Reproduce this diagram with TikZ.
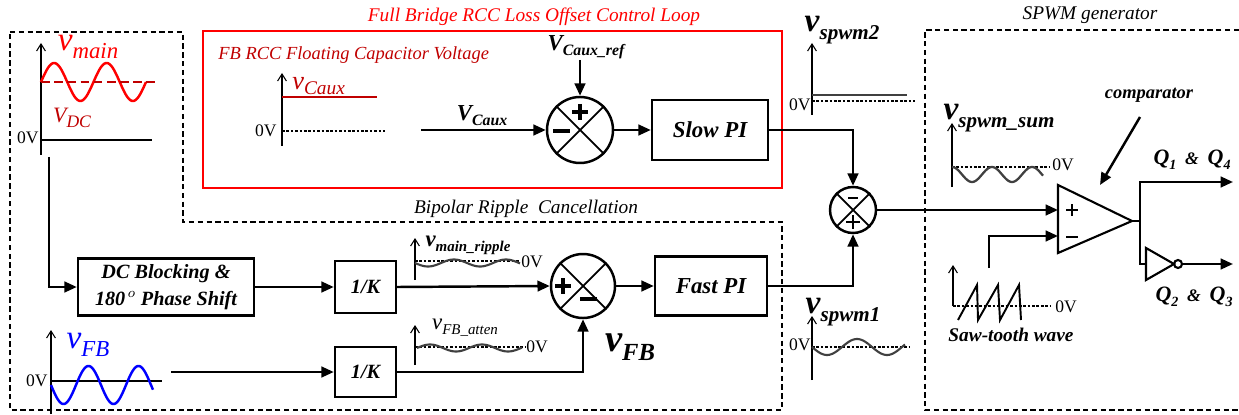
\documentclass[tikz,border=0pt]{standalone}
\usepackage{fontspec}
\setmainfont{Liberation Serif}
\usetikzlibrary{arrows.meta}
\definecolor{rd}{RGB}{255,0,0}
\definecolor{dred}{RGB}{192,0,0}
\definecolor{blu}{RGB}{0,0,255}
\definecolor{wav}{RGB}{64,64,64}
\newcommand\vsb[4]{{\fontsize{#1}{#1}\selectfont #3}\raisebox{-.22\dimexpr#1pt\relax}{\fontsize{#2}{#2}\selectfont #4}}
\newcommand\fs[1]{\fontsize{#1}{#1}\selectfont}
\tikzset{
  wire/.style={line width=1.4pt, -{Triangle[length=7pt,width=6pt]}},
  plain/.style={line width=1.4pt},
  blockbox/.style={draw, line width=1.4pt, inner sep=0pt, font=\bfseries\itshape\fs{12}},
  sumj/.style={draw, circle, line width=1.4pt, inner sep=0pt},
  axis/.style={line width=0.6pt, -{Straight Barb[length=4pt,width=5pt]}},
  zline/.style={line width=0.6pt, dash pattern=on 1.5pt off 1pt},
  frame/.style={line width=1.4pt, dash pattern=on 3pt off 2pt},
  ttl/.style={font=\itshape\fs{11}, inner sep=0pt},
  zv/.style={font=\fs{10}, inner sep=0pt},
  sig/.style={line width=2pt},
}
\begin{document}
\begin{tikzpicture}[x=0.02cm,y=-0.02cm]
\useasboundingbox (0,0) rectangle (1239,415);

% ---------- frames ----------
\draw[frame] (10,32) -- (183,32) -- (183,222) -- (782,222) -- (782,410) -- (10,410) -- cycle;
\draw[frame] (1239,30) -- (925,30) -- (925,410) -- (1239,410);
\draw[rd, line width=1.4pt] (203,31) rectangle (782,188);

\node[ttl, text=rd] (ttlred) at (534,17) {Full Bridge RCC Loss Offset Control Loop};
\node[ttl] (ttlbip) at (526,209) {Bipolar Ripple\ \ Cancellation};
\node[ttl] (ttlspwm) at (1090,15) {SPWM generator};
\node[ttl, text=dred, anchor=west, font=\itshape\fs{10.5}] (ttlfb) at (218,55) {FB RCC Floating Capacitor Voltage};

% ---------- v_main graph ----------
\draw[axis] (41,155) -- (41,43);
\draw[line width=0.8pt] (41,140) -- (152,140);
\draw[rd, line width=1.4pt] plot[domain=41:146, samples=120] (\x,{82-19*sin((\x-41)/52.5*360)});
\draw[dred, line width=1.4pt, dash pattern=on 5pt off 2.5pt] (41,82) -- (155,82);
\node[inner sep=0pt, text=rd, font=\itshape] (lvmain) at (88,47) {\vsb{19}{13}{v}{main}};
\node[inner sep=0pt, text=dred, font=\itshape] (lvdc) at (72,118) {\vsb{12.5}{10}{V}{DC}};
\node[zv, anchor=east] (z1) at (39,138) {0V};

% ---------- v_FB graph ----------
\draw[axis] (51,414) -- (51,330);
\draw[line width=0.8pt] (51,381) -- (162,381);
\draw[blu, line width=1.4pt] plot[domain=51:153, samples=120] (\x,{385+19*sin((\x-51)/50*360)});
\node[inner sep=0pt, text=blu, font=\itshape] (lvfb) at (88,345) {\vsb{19}{13}{v}{FB}};
\node[zv, anchor=east] (z2) at (48,381) {0V};

% ---------- blocks ----------
\node[blockbox, minimum width=3.52cm, minimum height=1.14cm, align=center, font=\bfseries\itshape\fontsize{11.5}{15}\selectfont] (dc) at (166,287) {DC Blocking \&\\180$^{\,o}$ Phase Shift};
\node[blockbox, minimum width=1.22cm, minimum height=1.04cm, font=\bfseries\itshape\fs{11.5}] (k1) at (365.5,287) {1/K};
\node[blockbox, minimum width=1.22cm, minimum height=1.0cm, font=\bfseries\itshape\fs{11.5}] (k2) at (365.5,372) {1/K};
\node[blockbox, minimum width=2.32cm, minimum height=1.2cm, font=\bfseries\itshape\fs{13}] (slow) at (710,130) {Slow PI};
\node[blockbox, minimum width=2.24cm, minimum height=1.18cm, font=\bfseries\itshape\fs{13}] (fast) at (711,286) {Fast PI};

% ---------- summing junctions ----------
\node[sumj, minimum size=1.32cm] (j1) at (580,130) {};
\draw[line width=1pt] (j1.45) -- (j1.225) (j1.135) -- (j1.-45);
\draw[sig] (572,112) -- (588,112) (580,104) -- (580,120);
\draw[sig] (553,131) -- (570,131);

\node[sumj, minimum size=1.28cm] (j2) at (583,286) {};
\draw[line width=1pt] (j2.45) -- (j2.225) (j2.135) -- (j2.-45);
\draw[sig] (555,286) -- (571,286) (563,278) -- (563,294);
\draw[sig] (580,299) -- (597,299);

\node[sumj, minimum size=0.92cm] (j3) at (853,210) {};
\draw[line width=1pt] (j3.45) -- (j3.225) (j3.135) -- (j3.-45);
\draw[line width=1.6pt] (848,198) -- (858,198);
\draw[line width=1.6pt] (846,222) -- (860,222) (853,215) -- (853,229);

% ---------- V_Caux path ----------
\draw[axis] (282,146) -- (282,73);
\draw[dred, line width=1.2pt] (282,97) -- (377,97);
\draw[zline] (282,131) -- (385,131);
\node[zv, anchor=east] (z3) at (277,131) {0V};
\node[inner sep=0pt, text=dred, font=\itshape, anchor=west] (lvcaux) at (292,86) {\vsb{15}{11}{v}{Caux}};

\coordinate (vcin) at (421,130);
\draw[wire] (vcin) -- (j1.west);
\node[inner sep=0pt, font=\bfseries\itshape] (lvcaux2) at (482,116) {\vsb{13}{9}{V}{Caux}};
\coordinate (refin) at (580,60);
\draw[wire] (refin) -- (j1.north);
\node[inner sep=0pt, font=\bfseries\itshape] (lvref) at (586,47) {\vsb{13}{9}{V}{Caux\_ref}};
\draw[wire] (j1.east) -- (slow.west);
\draw[wire] (slow.east) -| (j3.north);

% ---------- v_spwm2 ----------
\draw[axis] (812,115) -- (812,43);
\draw[wav, line width=1.2pt] (812,95) -- (907,95);
\draw[zline] (812,101) -- (915,101);
\node[zv, anchor=east] (z4) at (811,105) {0V};
\node[inner sep=0pt, font=\bfseries\itshape] (lvs2) at (842,30) {\vsb{19}{12}{v}{spwm2}};

% ---------- ripple path ----------
\coordinate (vmdown) at (49,157);
\draw[wire] (vmdown) |- (dc.west);
\draw[wire] (dc.east) -- (k1.west);
\draw[wire] (k1.east) -- (j2.west);
\coordinate (vfbin) at (171,372);
\draw[wire] (vfbin) -- (k2.west);
\draw[wire] (k2.east) -| (j2.south);
\draw[wire] (j2.east) -- (fast.west);
\draw[wire] (fast.east) -| (j3.south);

\draw[axis] (415,280) -- (415,238);
\draw[zline] (415,261) -- (520,261);
\draw[wav, line width=1.2pt] plot[domain=415:520, samples=80] (\x,{263+3.5*sin((\x-415)/52*360)});
\node[inner sep=0pt, font=\bfseries\itshape] (lvmr) at (468,245) {\vsb{13}{8.5}{v}{main\_ripple}};
\node[zv, anchor=west] (z5) at (521,262) {0V};

\draw[axis] (415,365) -- (415,325);
\draw[zline] (415,347) -- (525,347);
\draw[wav, line width=1.2pt] plot[domain=417:522, samples=80] (\x,{348-3.5*sin((\x-417)/52*360)});
\node[inner sep=0pt, font=\itshape] (lvfa) at (465,328) {\vsb{13}{8.5}{v}{FB\_atten}};
\node[zv, anchor=west] (z6) at (526,347) {0V};

\node[inner sep=0pt, font=\bfseries\itshape] (lvfb2) at (630,347) {\vsb{22}{14}{v}{FB}};

% ---------- v_spwm1 ----------
\draw[axis] (812,380) -- (812,316);
\draw[zline] (812,347) -- (910,347);
\draw[wav, line width=1.2pt] plot[domain=812:905, samples=80] (\x,{347+8*sin((\x-812)/60*360)});
\node[zv, anchor=east] (z7) at (811,345) {0V};
\node[inner sep=0pt, font=\bfseries\itshape] (lvs1) at (843,312) {\vsb{19}{12}{v}{spwm1}};

% ---------- SPWM generator ----------
\draw[axis] (952,187) -- (952,123);
\draw[zline] (952,167) -- (1050,167);
\draw[wav, line width=1.3pt] plot[domain=952:1043, samples=80] (\x,{174.5-7.5*cos((\x-952)/40*360)});
\node[zv, anchor=west] (z8) at (1052,165) {0V};
\node[inner sep=0pt, font=\bfseries\itshape] (lvsum) at (999,118) {\vsb{19}{12}{v}{spwm\_sum}};

\coordinate (cplus) at (1058,210);
\coordinate (cminus) at (1058,236);
\coordinate (cout) at (1132,221);
\draw[line width=1.2pt] (1058,185) -- (cout) -- (1058,253) -- cycle;
\draw[line width=1.5pt] (1066,210) -- (1078,210) (1072,204) -- (1072,216);
\draw[line width=1.5pt] (1066,237) -- (1078,237);
\draw[wire] (j3.east) -- (cplus);
\coordinate (sawup) at (989,268);
\draw[wire] (sawup) |- (cminus);

\coordinate (split) at (1140,221);
\draw[line width=1.2pt] (cout) -- (split);
\coordinate (q14) at (1233,182);
\draw[wire] (split) |- (q14);
\coordinate (invin) at (1146,264);
\draw[plain] (split) |- (invin);
\draw[line width=1.2pt] (1146,248) -- (1174,264) -- (1146,280) -- cycle;
\draw[line width=1.2pt] (1178,264) circle (4);
\coordinate (invout) at (1182,264);
\coordinate (q23) at (1233,264);
\draw[wire] (invout) -- (q23);

\node[inner sep=0pt, font=\bfseries\itshape] (lq14) at (1192,160) {\vsb{12.5}{8}{Q}{1}\ \ \&\ \ \vsb{12.5}{8}{Q}{4}};
\node[inner sep=0pt, font=\bfseries\itshape] (lq23) at (1194,297) {\vsb{12.5}{8}{Q}{2}\ \ \&\ \ \vsb{12.5}{8}{Q}{3}};

\node[inner sep=0pt, font=\bfseries\itshape\fs{10.5}] (lcomp) at (1149,95) {comparator};
\coordinate (carr) at (1140,117);
\coordinate (ctip) at (1100,185);
\draw[wire] (carr) -- (ctip);

\draw[axis] (953,306) -- (953,265);
\draw[zline] (953,306) -- (1050,306);
\draw[line width=1.1pt] (958,320) -- (977,285) -- (978,320) -- (998,285) -- (1000,320) -- (1019,285) -- (1021,320);
\node[zv, anchor=west] (z9) at (1055,307) {0V};
\node[inner sep=0pt, font=\bfseries\itshape\fs{11}] (lsaw) at (1011,335) {Saw-tooth wave};
\end{tikzpicture}
\end{document}
